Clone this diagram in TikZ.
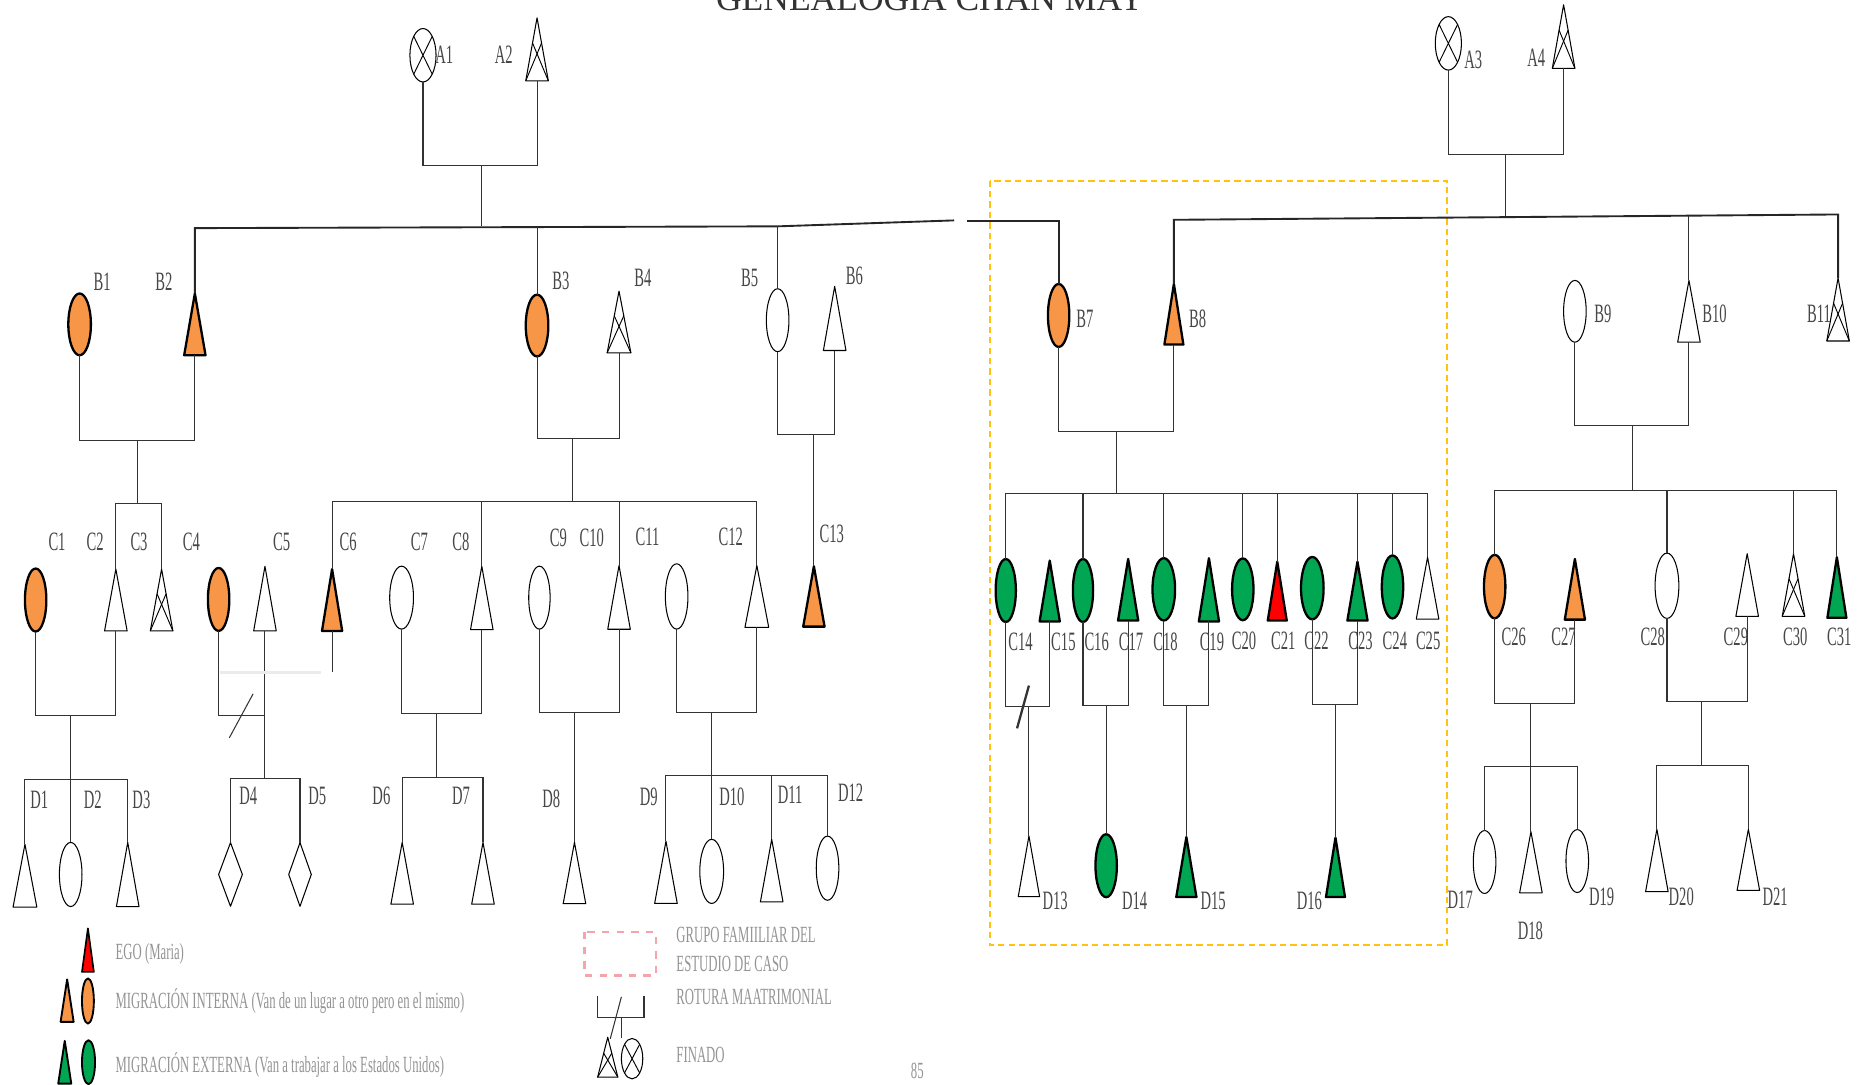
\documentclass[tikz,border=0pt]{standalone}
\usepackage{fontspec}
\setmainfont{Liberation Serif}
\newfontfamily\condserif[FakeStretch=0.55]{Liberation Serif}
\usetikzlibrary{shapes.geometric,calc}
\definecolor{morange}{HTML}{F79646}
\definecolor{mgreen}{HTML}{00A651}
\definecolor{mred}{HTML}{FF0000}
\definecolor{myellow}{HTML}{FFC20E}
\definecolor{mpink}{HTML}{F5A3AC}
\newcommand\labfont{\condserif\fontsize{12.7}{14}\selectfont}
\newcommand\legfont{\condserif\fontsize{11.1}{13}\selectfont}
\newcommand\titlefont{\fontsize{17}{18}\selectfont}
\tikzset{
 pbox/.style={rectangle,draw=none,fill=none,inner sep=0pt,outer sep=0pt},
 wht/.style={draw=black,line width=0.5pt,fill=white,line join=round},
 ora/.style={draw=black,line width=1.1pt,fill=morange,line join=round},
 grn/.style={draw=black,line width=1.1pt,fill=mgreen,line join=round},
 rdf/.style={draw=black,line width=1.1pt,fill=mred,line join=round},
 thinl/.style={line width=0.45pt,draw=black},
 link/.style={line width=0.5pt,draw=black!80},
 sib/.style={line width=0.9pt,draw=black!85},
 lab/.style={font=\labfont,text=black!72,inner sep=0pt},
 leg/.style={font=\legfont,text=black!42,inner sep=0pt,anchor=west},
 gbox/.style={draw=myellow,line width=0.9pt,dash pattern=on 3pt off 2pt},
 pbx/.style={draw=mpink,line width=1.3pt,dash pattern=on 3.5pt off 3.5pt},
 brk/.style={line width=1.1pt,draw=black!80},
}
\newcommand\pTri[6]{\node[pbox,minimum width={#5*0.02cm},minimum height={(#4-#3)*0.02cm}] (#1) at (#2,{(#3+#4)/2}) {};
  \draw[#6] (#1.north) -- (#1.south east) -- (#1.south west) -- cycle;}
\newcommand\pXTri[5]{\pTri{#1}{#2}{#3}{#4}{#5}{wht}
  \draw[thinl] (#1.south west) -- ($(#1.north)!0.4!(#1.south east)$);
  \draw[thinl] (#1.south east) -- ($(#1.north)!0.4!(#1.south west)$);}
\newcommand\pEll[6]{\node[ellipse,inner sep=0pt,outer sep=0pt,minimum width={#4*0.02cm},minimum height={#5*0.02cm},#6] (#1) at (#2,#3) {};}
\newcommand\pXEll[5]{\pEll{#1}{#2}{#3}{#4}{#5}{wht,path picture={\draw[thinl] (path picture bounding box.north west) -- (path picture bounding box.south east) (path picture bounding box.north east) -- (path picture bounding box.south west);}}}
\newcommand\pDia[5]{\node[pbox,minimum width={#4*0.02cm},minimum height={#5*0.02cm}] (#1) at (#2,#3) {};
  \draw[wht] (#1.north) -- (#1.east) -- (#1.south) -- (#1.west) -- cycle;}
\begin{document}
\begin{tikzpicture}[x=0.02cm,y=-0.02cm]
\useasboundingbox (0,0) rectangle (1568,913);
\clip (0,0) rectangle (1568,913);
\fill[white] (0,0) rectangle (1568,913);
% title (cut at the top edge, as in the scan)
\node[anchor=base,font=\titlefont,text=black!80,inner sep=0pt] (title) at (783,8.5) {GENEALOGIA CHAN MAY};
% study group box
\draw[gbox] (833,152) rectangle (1218,795);
% ---------- generation A
\pXEll{A1}{356}{46.5}{22}{45}
\pXTri{A2}{452}{15}{68}{19}
\pXEll{A3}{1219}{36.5}{22}{45}
\pXTri{A4}{1316}{4}{57.5}{19}
% ---------- generation B
\pEll{B1}{67}{273}{19}{52}{ora}
\pTri{B2}{164}{247}{299}{18}{ora}
\pEll{B3}{452}{274}{19}{52}{ora}
\pXTri{B4}{521}{245}{297}{20}
\pEll{B5}{654.5}{269.5}{19}{53}{wht}
\pTri{B6}{702.5}{241}{295}{19}{wht}
\pEll{B7}{891}{265.5}{18}{53}{ora}
\pTri{B8}{988}{239}{290}{16}{ora}
\pEll{B9}{1325.5}{262}{19}{52}{wht}
\pTri{B10}{1421.5}{236}{288}{19}{wht}
\pXTri{B11}{1547}{234}{287}{19}
% ---------- generation C
\pEll{C1}{30}{505}{18}{53}{ora}
\pTri{C2}{97.5}{479}{531}{19}{wht}
\pXTri{C3}{136}{479}{531}{19}
\pEll{C4}{184}{504.5}{18}{53}{ora}
\pTri{C5}{223}{476.6}{531}{19}{wht}
\pTri{C6}{279.5}{479}{531}{17}{ora}
\pEll{C7}{338}{503}{20}{53}{wht}
\pTri{C8}{405.5}{476.6}{530}{19}{wht}
\pEll{C9}{454}{503}{18}{53}{wht}
\pTri{C10}{521}{476}{529.6}{19}{wht}
\pEll{C11}{569.5}{502}{19}{55}{wht}
\pTri{C12}{637}{476}{528}{20}{wht}
\pTri{C13}{685}{476.6}{527.4}{18}{ora}
\pEll{C14}{846.5}{497}{17}{53}{grn}
\pTri{C15}{883.5}{471.8}{523}{17}{grn}
\pEll{C16}{911.5}{497}{17}{53}{grn}
\pTri{C17}{949.5}{470.4}{522.3}{17}{grn}
\pEll{C18}{979.5}{496}{19}{52.5}{grn}
\pTri{C19}{1017.5}{469.8}{523}{17}{grn}
\pEll{C20}{1046}{496}{18}{52}{grn}
\pTri{C21}{1075}{472.7}{522.3}{16}{rdf}
\pEll{C22}{1104.5}{495}{19}{52.5}{grn}
\pTri{C23}{1142.5}{472.7}{522.3}{17}{grn}
\pEll{C24}{1172}{494}{18}{53}{grn}
\pTri{C25}{1201.5}{469}{521}{19}{wht}
\pEll{C26}{1258}{493.7}{18}{53.4}{ora}
\pTri{C27}{1325.5}{470.4}{521.5}{17}{ora}
\pEll{C28}{1403}{493}{20}{55}{wht}
\pTri{C29}{1470.5}{466}{518.7}{19}{wht}
\pXTri{C30}{1509.5}{466}{518.7}{19}
\pTri{C31}{1546}{469}{520}{16}{grn}
% ---------- generation D
\pTri{D1}{21}{710.6}{763.4}{20}{wht}
\pEll{D2}{59.5}{736}{19}{54}{wht}
\pTri{D3}{107.5}{709}{763}{19}{wht}
\pDia{D4}{194}{736}{20}{53.6}
\pDia{D5}{252.5}{736}{19}{53.6}
\pTri{D6}{338.5}{709}{761}{19}{wht}
\pTri{D7}{406.5}{709}{761}{19}{wht}
\pTri{D8}{483.5}{709}{760.6}{19}{wht}
\pTri{D9}{560.5}{708}{760.3}{19}{wht}
\pEll{D10}{599}{733.4}{20}{54}{wht}
\pTri{D11}{649.5}{706.4}{759}{19}{wht}
\pEll{D12}{696.5}{730.7}{19}{54}{wht}
\pTri{D13}{866}{703.6}{754.7}{18}{wht}
\pEll{D14}{931}{728.6}{18}{53}{grn}
\pTri{D15}{998.5}{704.5}{755}{17}{grn}
\pTri{D16}{1124}{705}{755}{16}{grn}
\pEll{D17}{1249.5}{725.5}{19}{53}{wht}
\pTri{D18}{1288.5}{700}{751.4}{19}{wht}
\pEll{D19}{1327.5}{724.7}{19}{53}{wht}
\pTri{D20}{1394.5}{698}{750.5}{19}{wht}
\pTri{D21}{1471.5}{698}{749.4}{19}{wht}
% ---------- connectors A -> B
\coordinate (mA12) at (405,139);
\coordinate (jA12) at (405,190.5);
\draw[link] (A1.south) |- (mA12) -| (A2.south);
\draw[link] (mA12) -- (jA12);
\coordinate (SL1w) at (164,192);
\coordinate (SL1m) at (654.5,190.5);
\coordinate (SL1e) at (803,185.5);
\coordinate (jB3) at (452,191.3);
\draw[sib] (B2.north) -- (SL1w) -- (SL1m) -- (SL1e);
\draw[link] (B3.north) -- (jB3);
\draw[link] (B5.north) -- (SL1m);
\coordinate (SL1f) at (814,186);
\draw[sib] (SL1f) -- (B7.north |- SL1f) -- (B7.north);
\coordinate (mA34) at (1267,130);
\coordinate (jA34) at (1267,183);
\draw[link] (A3.south) |- (mA34) -| (A4.south);
\draw[link] (mA34) -- (jA34);
\coordinate (SL2w) at (988,185);
\coordinate (SL2e) at (1547,180.5);
\coordinate (jB10) at (1421.5,181.7);
\draw[sib] (B8.north) -- (SL2w) -- (SL2e) -- (B11.north);
\draw[link] (B10.north) -- (jB10);
% ---------- connectors B -> C
\coordinate (mB12) at (116,371);
\coordinate (sC23) at (116,424);
\draw[link] (B1.south) |- (mB12) -| (B2.south);
\draw[link] (mB12) -- (sC23);
\draw[link] (C2.north) |- (sC23) -| (C3.north);
\coordinate (mB34) at (482,369.4);
\coordinate (jB34) at (482,422);
\draw[link] (B3.south) |- (mB34) -| (B4.south);
\draw[link] (mB34) -- (jB34);
\draw[link] (C6.north) |- (jB34) -| (C12.north);
\draw[link] (C8.north) -- (C8.north |- jB34);
\draw[link] (C10.north) -- (C10.north |- jB34);
\coordinate (mB56) at (685,366);
\draw[link] (B5.south) |- (mB56) -| (B6.south);
\draw[link] (mB56) -- (C13.north);
\coordinate (mB78) at (940,363);
\coordinate (jB78) at (940,415.5);
\draw[link] (B7.south) |- (mB78) -| (B8.south);
\draw[link] (mB78) -- (jB78);
\draw[link] (C14.north) |- (jB78) -| (C25.north);
\foreach \c in {C16,C18,C20,C21,C23,C24} \draw[link] (\c.north) -- (\c.north |- jB78);
\coordinate (mB910) at (1374,358.5);
\coordinate (jB910) at (1374,412.5);
\draw[link] (B9.south) |- (mB910) -| (B10.south);
\draw[link] (mB910) -- (jB910);
\draw[link] (C26.north) |- (jB910) -| (C31.north);
\foreach \c in {C28,C30} \draw[link] (\c.north) -- (\c.north |- jB910);
% ---------- connectors C -> D
\coordinate (mC12) at (59.5,602);
\coordinate (sD13) at (59.5,656);
\draw[link] (C1.south) |- (mC12) -| (C2.south);
\draw[link] (mC12) -- (D2.north);
\draw[link] (D1.north) |- (sD13) -| (D3.north);
\coordinate (mC45) at (223,601.8);
\coordinate (sD45) at (223,655);
\draw[link] (C4.south) |- (mC45) -- (C5.south);
\draw[link] (mC45) -- (sD45);
\draw[link] (D4.north) |- (sD45) -| (D5.north);
\coordinate (rb1) at (213,584);
\coordinate (rb2) at (193,621);
\draw[link] (rb1) -- (rb2);
\coordinate (c6end) at (279.5,566);
\draw[link] (C6.south) -- (c6end);
\coordinate (f1) at (185,566);
\coordinate (f2) at (270,566);
\draw[black!8,line width=1.2pt] (f1) -- (f2);
\coordinate (mC78) at (367,600.4);
\coordinate (sD67) at (367,654.5);
\draw[link] (C7.south) |- (mC78) -| (C8.south);
\draw[link] (mC78) -- (sD67);
\draw[link] (D6.north) |- (sD67) -| (D7.north);
\coordinate (mC910) at (483.5,599.5);
\draw[link] (C9.south) |- (mC910) -| (C10.south);
\draw[link] (mC910) -- (D8.north);
\coordinate (mC1112) at (599,599.5);
\coordinate (sD912) at (599,653);
\draw[link] (C11.south) |- (mC1112) -| (C12.south);
\draw[link] (mC1112) -- (D10.north);
\draw[link] (D9.north) |- (sD912) -| (D12.north);
\draw[link] (D11.north) -- (D11.north |- sD912);
\coordinate (mC1415) at (866,594.5);
\draw[link] (C14.south) |- (mC1415) -| (C15.south);
\draw[link] (mC1415) -- (D13.north);
\coordinate (rb3) at (866,577);
\coordinate (rb4) at (856,613);
\draw[brk] (rb3) -- (rb4);
\coordinate (mC1617) at (931,594);
\draw[link] (C16.south) |- (mC1617) -| (C17.south);
\draw[link] (mC1617) -- (D14.north);
\coordinate (mC1819) at (998.5,594);
\draw[link] (C18.south) |- (mC1819) -| (C19.south);
\draw[link] (mC1819) -- (D15.north);
\coordinate (mC2223) at (1124,593);
\draw[link] (C22.south) |- (mC2223) -| (C23.south);
\draw[link] (mC2223) -- (D16.north);
\coordinate (mC2627) at (1288.5,591.7);
\coordinate (sD1719) at (1288.5,645.3);
\draw[link] (C26.south) |- (mC2627) -| (C27.south);
\draw[link] (mC2627) -- (D18.north);
\draw[link] (D17.north) |- (sD1719) -| (D19.north);
\coordinate (mC2829) at (1432,590.5);
\coordinate (sD2021) at (1432,644);
\draw[link] (C28.south) |- (mC2829) -| (C29.south);
\draw[link] (mC2829) -- (sD2021);
\draw[link] (D20.north) |- (sD2021) -| (D21.north);
% ---------- labels
\foreach \n/\x/\y in {A1/374/46,A2/424/46,A3/1240/50,A4/1293/49,
  B1/86/237,B2/138/237,B3/472/236,B4/541/234,B5/631/234,B6/719/232,B7/913/268,B8/1008/268,
  B9/1349/264,B10/1443/264,B11/1531/264,
  C1/48/456,C2/80/456,C3/117/456,C4/161/456,C5/237/456,C6/293/456,C7/353/456,C8/388/456,
  C9/470/453,C10/498/453,C11/545/452,C12/615/452,C13/700/449,
  C14/859/540,C15/895/540,C16/923/540,C17/952/540,C18/981/540,C19/1020/540,C20/1047/539,
  C21/1080/539,C22/1108/539,C23/1145/539,C24/1174/539,C25/1202/539,
  C26/1274/536,C27/1316/536,C28/1391/536,C29/1461/536,C30/1511/536,C31/1548/536,
  D1/33/673,D2/78/673,D3/119/673,D4/209/670,D5/267/670,D6/321/670,D7/388/670,D8/464/672,
  D9/546/671,D10/616/671,D11/665/669,D12/716/667,D13/888/758,D14/955/758,D15/1021/758,
  D16/1102/758,D17/1229/757,D18/1288/783,D19/1348/755,D20/1415/755,D21/1494/755}
  \node[lab] (t\n) at (\x,\y) {\n};
% ---------- legend
\pTri{LegEgo}{74}{781.4}{818}{10}{rdf,line width=0.8pt}
\node[leg] (tEgo) at (97,802.7) {EGO (Maria)};
\pTri{LegOT}{56.5}{824.3}{860}{11}{ora,line width=0.9pt}
\pEll{LegOE}{74}{842.5}{10}{38}{ora,line width=0.9pt}
\node[leg] (tOra) at (97,842.6) {MIGRACIÓN INTERNA (Van de un lugar a otro pero en el mismo)};
\pTri{LegGT}{54.5}{876}{912}{11}{grn,line width=0.9pt}
\pEll{LegGE}{74.5}{894}{11}{37}{grn,line width=0.9pt}
\node[leg] (tGrn) at (97,896) {MIGRACIÓN EXTERNA (Van a trabajar a los Estados Unidos)};
\draw[pbx] (492,784.5) rectangle (552,821);
\node[leg] (tGrupo1) at (569,787) {GRUPO FAMIILIAR DEL};
\node[leg] (tGrupo2) at (569,811) {ESTUDIO DE CASO};
\coordinate (r1) at (503,838);
\coordinate (r3) at (542,856);
\coordinate (r5) at (523,856);
\coordinate (r6) at (523,873.5);
\coordinate (r7) at (523,839);
\coordinate (r8) at (513.6,874.3);
\draw[link] (r1) |- (r3) -- (r3 |- r1);
\draw[link] (r5) -- (r6);
\draw[link] (r7) -- (r8);
\node[leg] (tRot) at (569,839) {ROTURA MAATRIMONIAL};
\pXTri{LegFT}{511.5}{873}{906.6}{17}
\pXEll{LegFE}{532}{891}{18}{34}
\node[leg] (tFin) at (569,888) {FINADO};
\node[leg,anchor=center] (page) at (772,901.5) {85};
\end{tikzpicture}
\end{document}
